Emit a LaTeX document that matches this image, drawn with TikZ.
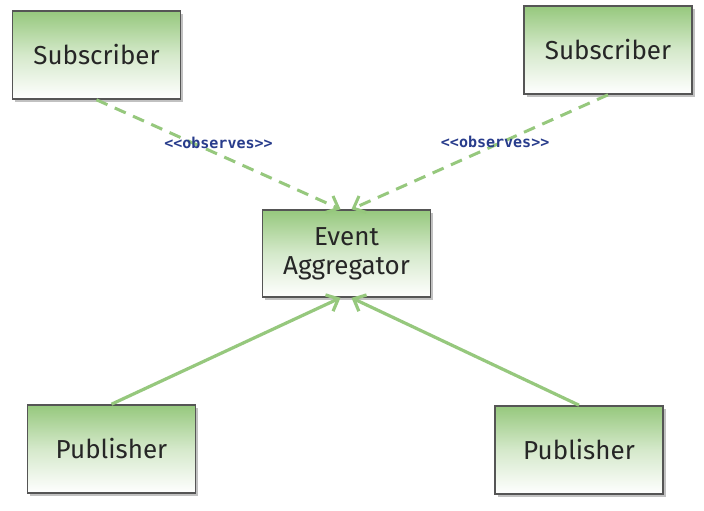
\documentclass[tikz,border=0pt]{standalone}
\usepackage{fontspec}
\setmainfont{Fira Sans}
\setmonofont{DejaVu Sans Mono}
\usetikzlibrary{shadows,arrows.meta}
\definecolor{boxgreen}{RGB}{150,200,125}
\definecolor{linegreen}{RGB}{150,200,125}
\definecolor{labelblue}{RGB}{40,60,140}
\definecolor{boxborder}{RGB}{85,85,85}
\tikzset{
  umlbox/.style={rectangle, draw=boxborder, line width=1.6pt,
    top color=boxgreen, bottom color=white, middle color=boxgreen!40,
    minimum width=168pt, minimum height=88pt, inner sep=0pt, align=center,
    font=\fontsize{26}{29}\selectfont, text=black!85,
    drop shadow={shadow xshift=2.5pt, shadow yshift=-3pt, fill=black!40, opacity=0.6}},
  observes/.style={draw=linegreen, line width=3pt, dash pattern=on 12pt off 8pt,
    -{Straight Barb[length=10pt,width=18pt]}},
  publishes/.style={draw=linegreen, line width=3.2pt,
    -{Straight Barb[length=10pt,width=18pt]}},
  stereo/.style={font=\ttfamily\bfseries\fontsize{15}{15}\selectfont, text=labelblue, inner sep=1pt}
}
\begin{document}
\begin{tikzpicture}[x=1pt,y=-1pt]
\useasboundingbox (0,0) rectangle (704,511);
\fill[white] (0,0) rectangle (704,511);
\node[umlbox] (subL) at (96.5,55) {Subscriber};
\node[umlbox] (subR) at (608,50) {Subscriber};
\node[umlbox, minimum height=87pt] (agg) at (346.5,253.5) {Event\\Aggregator};
\node[umlbox] (pubL) at (111.5,449) {Publisher};
\node[umlbox] (pubR) at (579,450) {Publisher};
\draw[observes] (subL.south) -- ([xshift=-6pt]agg.north) node[pos=0.5, yshift=12pt, stereo] (lblL) {<<observes>>};
\draw[observes] (subR.south) -- ([xshift=5pt]agg.north) node[pos=0.44, yshift=3pt, stereo] (lblR) {<<observes>>};
\draw[publishes] (pubL.north) -- ([xshift=-6pt]agg.south);
\draw[publishes] (pubR.north) -- ([xshift=5pt]agg.south);
\end{tikzpicture}
\end{document}
